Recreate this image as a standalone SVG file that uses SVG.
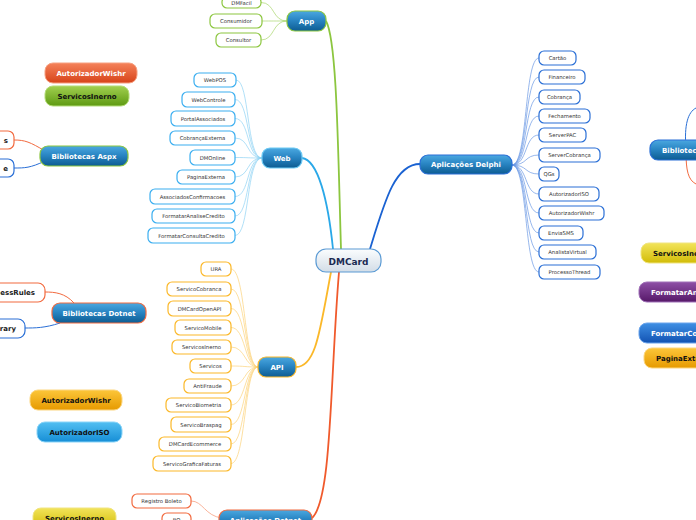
<svg xmlns="http://www.w3.org/2000/svg" width="696" height="520" viewBox="0 0 696 520">
<defs>
<linearGradient id="gB" x1="0" y1="0" x2="0" y2="1"><stop offset="0" stop-color="#4ba8e0"/><stop offset="0.45" stop-color="#2a86c4"/><stop offset="1" stop-color="#0d5c92"/></linearGradient>
<linearGradient id="gC" x1="0" y1="0" x2="0" y2="1"><stop offset="0" stop-color="#fbfdfe"/><stop offset="1" stop-color="#d3dde7"/></linearGradient>
<linearGradient id="gR" x1="0" y1="0" x2="0" y2="1"><stop offset="0" stop-color="#f5825a"/><stop offset="1" stop-color="#d7431a"/></linearGradient>
<linearGradient id="gG" x1="0" y1="0" x2="0" y2="1"><stop offset="0" stop-color="#a2d050"/><stop offset="1" stop-color="#5e9a12"/></linearGradient>
<linearGradient id="gY" x1="0" y1="0" x2="0" y2="1"><stop offset="0" stop-color="#f2e45a"/><stop offset="1" stop-color="#d2bc08"/></linearGradient>
<linearGradient id="gP" x1="0" y1="0" x2="0" y2="1"><stop offset="0" stop-color="#8e50a6"/><stop offset="1" stop-color="#561868"/></linearGradient>
<linearGradient id="gBB" x1="0" y1="0" x2="0" y2="1"><stop offset="0" stop-color="#3f90e4"/><stop offset="1" stop-color="#1252b2"/></linearGradient>
<linearGradient id="gO" x1="0" y1="0" x2="0" y2="1"><stop offset="0" stop-color="#fcc63a"/><stop offset="1" stop-color="#e69a00"/></linearGradient>
<linearGradient id="gCy" x1="0" y1="0" x2="0" y2="1"><stop offset="0" stop-color="#52bff2"/><stop offset="1" stop-color="#168ed6"/></linearGradient>
</defs>
<style>
text{font-family:"DejaVu Sans",Verdana,sans-serif}
.c{font-size:5.3px;fill:#333;text-anchor:middle}
.m{font-size:7px;font-weight:bold;fill:#fff;text-anchor:middle}
.k{font-size:7px;font-weight:bold;fill:#111;text-anchor:middle}
.e{font-size:7px;font-weight:bold;fill:#222;text-anchor:end}
.cb{fill:#fff;stroke-width:1.2}
.mn{fill:url(#gB);stroke-width:1.2}
.gw{stroke:#8cc63f}.bw{stroke:#3aaef0}.dw{stroke:#2a6fd6}.ow{stroke:#fbb829}.rw{stroke:#f26a3f}
.ln{fill:none}
.lg{stroke:#a8d66a;stroke-width:0.7}.lb{stroke:#8fd3f4;stroke-width:0.7}.ld{stroke:#6a98e4;stroke-width:0.7}.lo{stroke:#fcd27a;stroke-width:0.7}
</style>

<g id="connectors" class="ln">
<path d="M341,249 C 338,150 337,40 326,21" stroke="#8cc63f" stroke-width="1.8" fill="none"/>
<path d="M333,249 C 328,200 318,160 302,158" stroke="#2aa8e8" stroke-width="1.8" fill="none"/>
<path d="M370,249 C 385,200 395,164 420,164" stroke="#1a62d2" stroke-width="1.8" fill="none"/>
<path d="M331,272 C 320,330 316,367 296,367" stroke="#fbb829" stroke-width="1.8" fill="none"/>
<path d="M339,272 C 330,380 332,500 312,518" stroke="#f05a2c" stroke-width="1.8" fill="none"/>
<g class="lg" fill="none">
<path d="M287,21 C 272,21 275,2.5 261,2.5"/><path d="M287,21 C 275,21 272,21 262,21"/><path d="M287,21 C 272,21 275,40 261,40"/>
</g>
<g class="lb" fill="none">
<path d="M262,158 C 246,158 250,80 236,80"/><path d="M262,158 C 246,158 250,99.5 235,99.5"/><path d="M262,158 C 246,158 250,118.5 235,118.5"/><path d="M262,158 C 246,158 250,138 235,138"/><path d="M262,158 C 246,158 250,157.5 235,157.5"/><path d="M262,158 C 246,158 250,177 235,177"/><path d="M262,158 C 246,158 250,196.5 235,196.5"/><path d="M262,158 C 246,158 250,216 235,216"/><path d="M262,158 C 246,158 250,235.5 235,235.5"/>
</g>
<g class="ld" fill="none">
<path d="M512,165 C 528,165 524,58 539,58"/><path d="M512,165 C 528,165 524,77 539,77"/><path d="M512,165 C 528,165 524,97 539,97"/><path d="M512,165 C 528,165 524,116 539,116"/><path d="M512,165 C 528,165 524,135 539,135"/><path d="M512,165 C 528,165 524,155 539,155"/><path d="M512,165 C 528,165 524,174 539,174"/><path d="M512,165 C 528,165 524,194 539,194"/><path d="M512,165 C 528,165 524,213 539,213"/><path d="M512,165 C 528,165 524,233 539,233"/><path d="M512,165 C 528,165 524,252 539,252"/><path d="M512,165 C 528,165 524,272 539,272"/>
</g>
<g class="lo" fill="none">
<path d="M258,367 C 244,367 246,269 231,269"/><path d="M258,367 C 244,367 246,289 231,289"/><path d="M258,367 C 244,367 246,308.5 231,308.5"/><path d="M258,367 C 244,367 246,327.5 231,327.5"/><path d="M258,367 C 244,367 246,347 231,347"/><path d="M258,367 C 244,367 246,366 231,366"/><path d="M258,367 C 244,367 246,386 231,386"/><path d="M258,367 C 244,367 246,405 231,405"/><path d="M258,367 C 244,367 246,424.5 231,424.5"/><path d="M258,367 C 244,367 246,444 231,444"/><path d="M258,367 C 244,367 246,463.5 231,463.5"/>
</g>
<path d="M45,151 C 30,142 25,140 14,140" stroke="#f26a3f" stroke-width="1" fill="none"/>
<path d="M45,161 C 30,168 25,168 14,168" stroke="#2a6fd6" stroke-width="1" fill="none"/>
<path d="M74,303 C 65,293 55,292 45,292" stroke="#f26a3f" stroke-width="1" fill="none"/>
<path d="M60,323 C 45,328 35,328 25,328" stroke="#2a6fd6" stroke-width="1" fill="none"/>
<path d="M686,148 C 684,125 688,112 696,108" stroke="#2a6fd6" stroke-width="1" fill="none"/>
<path d="M686,152 C 686,170 688,180 696,184" stroke="#f26a3f" stroke-width="1" fill="none"/>
<path d="M191,501 C 203,501 205,516 222,518" stroke="#f8a080" stroke-width="0.8" fill="none"/>
</g>

<g id="dmcard"><rect x="316" y="249" width="65" height="23" rx="10" fill="url(#gC)" stroke="#5a9ad4" stroke-width="1.2"/><text x="348.5" y="264.5" style="font-size:9px;font-weight:bold;fill:#1b2a52;text-anchor:middle">DMCard</text></g>

<g id="app"><rect x="287" y="11" width="39" height="20" rx="8" class="mn gw"/><text x="306.5" y="23.5" class="m">App</text></g>
<g id="dmfacil"><rect x="222" y="-3" width="39" height="11" rx="5" class="cb gw"/><text x="241.5" y="4.5" class="c">DMFacil</text></g>
<g id="consumidor"><rect x="210" y="14" width="52" height="14" rx="5" class="cb gw"/><text x="236" y="23" class="c">Consumidor</text></g>
<g id="consultor"><rect x="216" y="33" width="45" height="14" rx="5" class="cb gw"/><text x="238.5" y="42" class="c">Consultor</text></g>

<g id="web"><rect x="262" y="148" width="40" height="20" rx="8" class="mn" stroke="#6ccaf4"/><text x="282" y="160.5" class="m">Web</text></g>
<g id="webpos"><rect x="194" y="73" width="42" height="14" rx="5" class="cb bw"/><text x="215" y="82" class="c">WebPOS</text></g>
<g id="webcontrole"><rect x="182" y="92" width="53" height="15" rx="5" class="cb bw"/><text x="208.5" y="101.5" class="c">WebControle</text></g>
<g id="portalassociados"><rect x="171" y="111" width="64" height="15" rx="5" class="cb bw"/><text x="203" y="120.5" class="c">PortalAssociados</text></g>
<g id="cobrancaexterna"><rect x="170" y="131" width="65" height="14" rx="5" class="cb bw"/><text x="202.5" y="140" class="c">CobrançaExterna</text></g>
<g id="dmonline"><rect x="190" y="150" width="45" height="15" rx="5" class="cb bw"/><text x="212.5" y="159.5" class="c">DMOnline</text></g>
<g id="paginaexterna"><rect x="177" y="170" width="58" height="14" rx="5" class="cb bw"/><text x="206" y="179" class="c">PaginaExterna</text></g>
<g id="associadosconfirmacoes"><rect x="150" y="189" width="85" height="15" rx="5" class="cb bw"/><text x="192.5" y="198.5" class="c">AssociadosConfirmacoes</text></g>
<g id="formataranalisecredito"><rect x="152" y="209" width="83" height="14" rx="5" class="cb bw"/><text x="193.5" y="218" class="c">FormatarAnaliseCredito</text></g>
<g id="formatarconsultacredito"><rect x="148" y="228" width="87" height="15" rx="5" class="cb bw"/><text x="191.5" y="237.5" class="c">FormatarConsultaCredito</text></g>

<g id="delphi"><rect x="420" y="155" width="92" height="19" rx="8" class="mn dw"/><text x="466" y="167" class="m">Aplicações Delphi</text></g>
<g id="cartao"><rect x="539" y="51" width="37" height="14" rx="5" class="cb dw"/><text x="557.5" y="60" class="c">Cartão</text></g>
<g id="financeiro"><rect x="539" y="70" width="46" height="14" rx="5" class="cb dw"/><text x="562" y="79" class="c">Financeiro</text></g>
<g id="cobranca"><rect x="539" y="90" width="41" height="14" rx="5" class="cb dw"/><text x="559.5" y="99" class="c">Cobrança</text></g>
<g id="fechamento"><rect x="539" y="109" width="51" height="14" rx="5" class="cb dw"/><text x="564.5" y="118" class="c">Fechamento</text></g>
<g id="serverpac"><rect x="539" y="128" width="47" height="14" rx="5" class="cb dw"/><text x="562.5" y="137" class="c">ServerPAC</text></g>
<g id="servercobranca"><rect x="539" y="148" width="61" height="14" rx="5" class="cb dw"/><text x="569.5" y="157" class="c">ServerCobrança</text></g>
<g id="qgs"><rect x="539" y="167" width="20" height="14" rx="5" class="cb dw"/><text x="549" y="176" class="c">QGs</text></g>
<g id="autorizadoriso-d"><rect x="539" y="187" width="60" height="14" rx="5" class="cb dw"/><text x="569" y="196" class="c">AutorizadorISO</text></g>
<g id="autorizadorwishr-d"><rect x="539" y="206" width="65" height="14" rx="5" class="cb dw"/><text x="571.5" y="215" class="c">AutorizadorWishr</text></g>
<g id="enviasms"><rect x="539" y="226" width="44" height="14" rx="5" class="cb dw"/><text x="561" y="235" class="c">EnviaSMS</text></g>
<g id="analistavirtual"><rect x="539" y="245" width="57" height="14" rx="5" class="cb dw"/><text x="567.5" y="254" class="c">AnalistaVirtual</text></g>
<g id="processothread"><rect x="539" y="265" width="61" height="14" rx="5" class="cb dw"/><text x="569.5" y="274" class="c">ProcessoThread</text></g>

<g id="api"><rect x="258" y="357" width="38" height="20" rx="8" class="mn ow"/><text x="277" y="369.5" class="m">API</text></g>
<g id="ura"><rect x="201" y="262" width="30" height="14" rx="5" class="cb ow"/><text x="216" y="271" class="c">URA</text></g>
<g id="servicocobranca"><rect x="167" y="282" width="64" height="14" rx="5" class="cb ow"/><text x="199" y="291" class="c">ServicoCobranca</text></g>
<g id="dmcardopenapi"><rect x="168" y="301" width="63" height="15" rx="5" class="cb ow"/><text x="199.5" y="310.5" class="c">DMCardOpenAPI</text></g>
<g id="servicomobile"><rect x="175" y="320" width="56" height="15" rx="5" class="cb ow"/><text x="203" y="329.5" class="c">ServicoMobile</text></g>
<g id="servicosinerno-a"><rect x="172" y="340" width="59" height="14" rx="5" class="cb ow"/><text x="201.5" y="349" class="c">ServicosInerno</text></g>
<g id="servicos"><rect x="190" y="359" width="41" height="14" rx="5" class="cb ow"/><text x="210.5" y="368" class="c">Servicos</text></g>
<g id="antifraude"><rect x="184" y="379" width="47" height="14" rx="5" class="cb ow"/><text x="207.5" y="388" class="c">AntiFraude</text></g>
<g id="servicobiometria"><rect x="166" y="398" width="65" height="14" rx="5" class="cb ow"/><text x="198.5" y="407" class="c">ServicoBiometria</text></g>
<g id="servicobraspag"><rect x="171" y="417" width="60" height="15" rx="5" class="cb ow"/><text x="201" y="426.5" class="c">ServicoBraspag</text></g>
<g id="dmcardecommerce"><rect x="159" y="437" width="72" height="14" rx="5" class="cb ow"/><text x="195" y="446" class="c">DMCardEcommerce</text></g>
<g id="servicograficafaturas"><rect x="153" y="456" width="78" height="15" rx="5" class="cb ow"/><text x="192" y="465.5" class="c">ServicoGraficaFaturas</text></g>

<g id="autorizadorwishr-1"><rect x="45" y="63" width="92" height="20" rx="8" fill="url(#gR)" stroke="#f6a080" stroke-width="1"/><text x="91" y="75.5" class="m">AutorizadorWishr</text></g>
<g id="servicosinerno-1"><rect x="45" y="86" width="84" height="20" rx="8" fill="url(#gG)" stroke="#b4dc78" stroke-width="1"/><text x="87" y="98.5" class="k">ServicosInerno</text></g>

<g id="bibliotecas-aspx"><rect x="40" y="146" width="88" height="20" rx="8" class="mn gw"/><text x="84" y="158.5" class="m">Bibliotecas Aspx</text></g>
<g id="aspx-child-1"><rect x="-20" y="131" width="34" height="18" rx="6" class="cb rw"/><text x="8" y="142.5" class="e">s</text></g>
<g id="aspx-child-2"><rect x="-20" y="159" width="34" height="18" rx="6" class="cb dw"/><text x="8" y="170.5" class="e">e</text></g>

<g id="bibliotecas-dotnet"><rect x="52" y="303" width="94" height="20" rx="8" class="mn rw"/><text x="99" y="315.5" class="m">Bibliotecas Dotnet</text></g>
<g id="businessrules"><rect x="-20" y="283" width="65" height="19" rx="7" class="cb rw"/><text x="35" y="295" class="e">BusinessRules</text></g>
<g id="library"><rect x="-20" y="319" width="45" height="19" rx="7" class="cb dw"/><text x="16" y="331" class="e">Library</text></g>

<g id="bibliotecas-right"><rect x="650" y="140" width="70" height="20" rx="8" class="mn dw"/><text x="662" y="152.5" class="m" style="text-anchor:start">Bibliotecas</text></g>
<g id="servicosinerno-r"><rect x="641" y="243" width="80" height="20" rx="8" fill="url(#gY)" stroke="#f0e480" stroke-width="1"/><text x="653" y="255.5" class="k" style="text-anchor:start">ServicosInerno</text></g>
<g id="formataranalise-r"><rect x="639" y="282" width="110" height="20" rx="8" fill="url(#gP)" stroke="#a070b8" stroke-width="1"/><text x="651" y="294.5" class="m" style="text-anchor:start">FormatarAnaliseCredito</text></g>
<g id="formatarconsulta-r"><rect x="639" y="323" width="110" height="20" rx="8" fill="url(#gBB)" stroke="#6aa4ec" stroke-width="1"/><text x="651" y="335.5" class="m" style="text-anchor:start">FormatarConsultaCredito</text></g>
<g id="paginaexterna-r"><rect x="644" y="348" width="80" height="20" rx="8" fill="url(#gO)" stroke="#fcd680" stroke-width="1"/><text x="656" y="360.5" class="k" style="text-anchor:start">PaginaExterna</text></g>

<g id="autorizadorwishr-2"><rect x="30" y="390" width="92" height="20" rx="8" fill="url(#gO)" stroke="#fcd680" stroke-width="1"/><text x="76" y="402.5" class="k">AutorizadorWishr</text></g>
<g id="autorizadoriso-2"><rect x="37" y="422" width="85" height="20" rx="8" fill="url(#gCy)" stroke="#8ad4f8" stroke-width="1"/><text x="79.5" y="434.5" class="k">AutorizadorISO</text></g>
<g id="servicosinerno-2"><rect x="33" y="508" width="83" height="20" rx="8" fill="url(#gY)" stroke="#f0e480" stroke-width="1"/><text x="74.5" y="520.5" class="k">ServicosInerno</text></g>

<g id="aplicacoes-dotnet"><rect x="219" y="510" width="93" height="20" rx="8" class="mn rw"/><text x="265.5" y="522.5" class="m">Aplicações Dotnet</text></g>
<g id="registro-boleto"><rect x="132" y="494" width="59" height="14" rx="5" class="cb rw"/><text x="161.5" y="503" class="c">Registro Boleto</text></g>
<g id="bo"><rect x="162" y="513" width="29" height="14" rx="5" class="cb rw"/><text x="176.5" y="522" class="c">BO</text></g>
</svg>
